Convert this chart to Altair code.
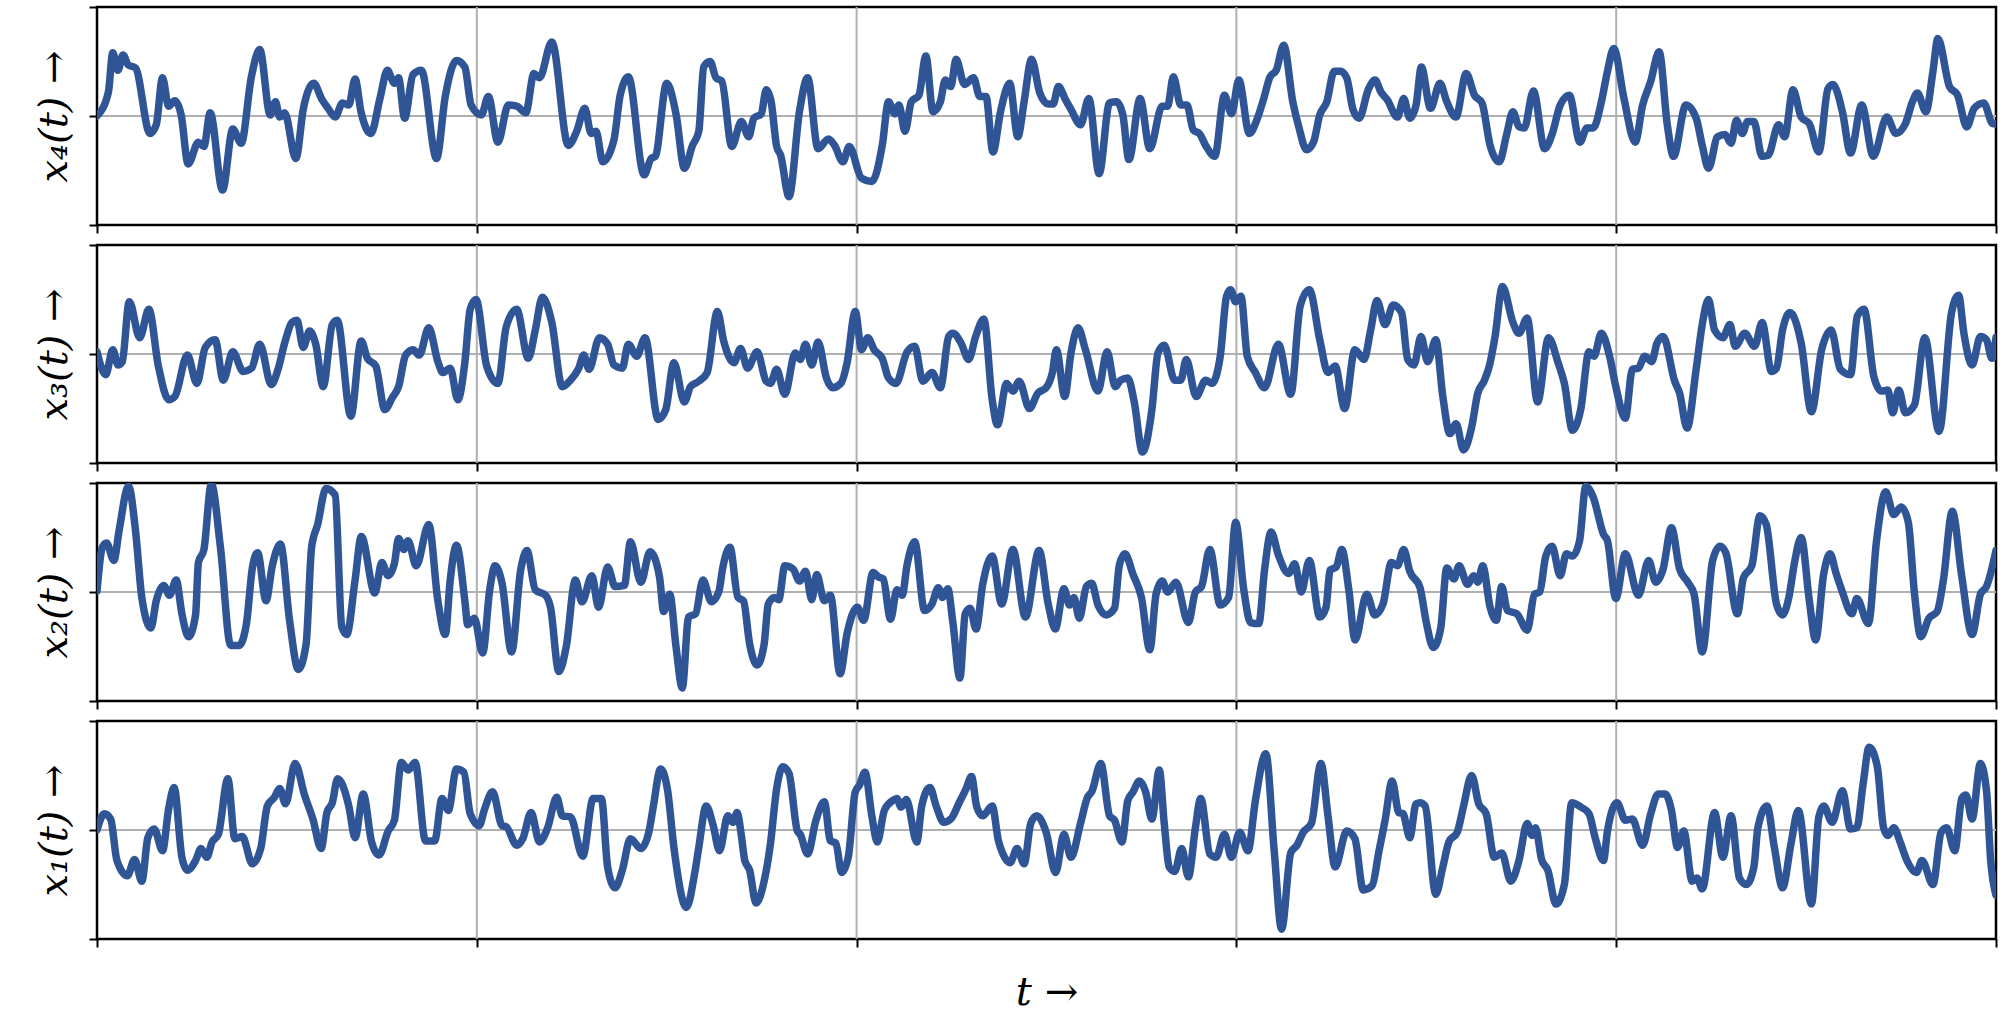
import altair as alt
import pandas as pd

# Sample times (0..100) and values (-1..1) for each of the four signals
T4 = [0, 0.6, 0.83, 1.1, 1.37, 1.64, 2.03, 2.79, 3.12, 3.45, 3.77, 4.1, 4.43, 4.8, 5.34, 5.63, 5.96, 6.61, 7.15, 7.59,
      8.13, 8.57, 9.12, 9.4, 9.62, 9.88, 10.47, 10.87, 11.41, 11.85, 12.17, 12.54, 12.93, 13.26, 13.59, 13.9, 14.42,
      14.9, 15.29, 15.66, 15.88, 16.2, 16.64, 17.08, 17.88, 18.34, 18.93, 19.37, 19.7, 20.24, 20.61, 21.11, 21.66,
      22.1, 22.58, 23.01, 23.3, 23.95, 24.82, 25.26, 25.69, 26.02, 26.28, 26.63, 27.22, 27.55, 27.98, 28.81, 29.18,
      29.4, 30.0, 30.5, 30.93, 31.36, 31.69, 31.95, 32.28, 32.6, 32.9, 33.43, 33.93, 34.32, 34.59, 34.98, 35.24,
      35.5, 35.79, 36.0, 36.44, 36.99, 37.42, 37.97, 38.52, 38.84, 39.28, 39.61, 40.26, 40.81, 41.35, 41.68, 42.01,
      42.23, 42.55, 42.88, 43.28, 43.65, 44.02, 44.41, 44.67, 44.96, 45.24, 45.68, 46.16, 46.48, 46.81, 47.18,
      47.58, 48.06, 48.49, 48.82, 49.21, 49.65, 50.09, 50.35, 50.63, 51.0, 51.29, 51.79, 52.23, 52.77, 53.32,
      53.69, 54.02, 54.34, 54.93, 55.44, 56.09, 56.38, 56.68, 57.07, 57.4, 57.73, 58.05, 58.38, 58.86, 59.37,
      59.74, 60.13, 60.68, 61.11, 61.44, 61.77, 62.1, 62.49, 62.97, 63.3, 63.69, 64.06, 64.39, 64.76, 65.15,
      65.48, 65.81, 66.14, 66.46, 66.96, 67.3, 67.61, 67.94, 68.48, 68.81, 69.13, 69.46, 69.74, 70.22, 70.72,
      71.08, 71.56, 72.1, 72.54, 72.93, 73.36, 73.84, 74.23, 74.56, 74.88, 75.16, 75.64, 76.23, 76.62, 77.05,
      77.53, 78.09, 78.46, 78.79, 79.22, 79.54, 79.87, 80.41, 81.0, 81.39, 81.82, 82.26, 82.69, 83.02, 83.67,
      84.21, 84.53, 84.86, 85.34, 85.73, 86.05, 86.33, 86.64, 86.92, 87.25, 87.68, 88.0, 88.55, 88.87, 89.31,
      89.74, 90.17, 90.67, 91.15, 91.41, 91.91, 92.34, 92.93, 93.54, 94.25, 94.73, 95.23, 95.6, 95.86, 96.31,
      96.68, 96.94, 97.55, 97.98, 98.46, 98.85, 99.35, 99.83, 100]
X4 = [0.0, 0.22, 0.58, 0.42, 0.56, 0.47, 0.44, -0.16, -0.08, 0.35, 0.09, 0.14, 0.01, -0.44, -0.24, -0.28, 0.03, -0.68,
      -0.12, -0.25, 0.36, 0.61, 0.01, 0.13, -0.01, 0.03, -0.39, 0.07, 0.3, 0.15, 0.07, -0.01, 0.12, 0.1, 0.34, 0.04,
      -0.16, 0.16, 0.42, 0.3, 0.35, -0.02, 0.38, 0.42, -0.39, 0.18, 0.51, 0.45, 0.1, 0.01, 0.18, -0.24, 0.1, 0.09,
      0.03, 0.39, 0.35, 0.68, -0.27, -0.14, 0.07, -0.16, -0.14, -0.42, -0.22, 0.19, 0.36, -0.54, -0.39, -0.37, 0.3,
      0.01, -0.48, -0.27, -0.14, 0.45, 0.5, 0.35, 0.32, -0.28, -0.05, -0.19, -0.02, 0.02, 0.24, 0.13, -0.28, -0.36,
      -0.74, 0.04, 0.35, -0.3, -0.21, -0.27, -0.42, -0.28, -0.57, -0.6, -0.27, 0.13, 0.02, 0.1, -0.14, 0.13, 0.19,
      0.55, 0.04, 0.13, 0.33, 0.27, 0.52, 0.29, 0.35, 0.18, 0.18, -0.33, 0.04, 0.3, -0.19, 0.13, 0.52, 0.21, 0.11,
      0.11, 0.27, 0.15, 0.06, -0.08, 0.16, -0.53, 0.12, 0.13, 0.01, -0.4, 0.16, -0.3, 0.09, 0.09, 0.36, 0.1, 0.1,
      -0.13, -0.16, -0.27, -0.37, 0.19, 0.02, 0.33, -0.16, -0.02, 0.16, 0.36, 0.42, 0.65, 0.13, -0.11, -0.31, -0.24,
      0.01, 0.13, 0.41, 0.41, 0.35, 0.06, -0.02, 0.25, 0.33, 0.22, 0.15, -0.01, 0.16, -0.02, 0.1, 0.45, 0.07, 0.3,
      0.13, -0.01, 0.39, 0.19, 0.12, -0.27, -0.42, -0.17, 0.04, -0.1, -0.11, 0.23, -0.3, -0.17, 0.1, 0.19, -0.24,
      -0.11, -0.11, 0.13, 0.41, 0.62, 0.16, -0.24, 0.1, 0.32, 0.59, -0.08, -0.37, 0.1, -0.02, -0.27, -0.48, -0.19,
      -0.17, -0.25, -0.04, -0.16, -0.05, -0.05, -0.37, -0.36, -0.08, -0.19, 0.24, -0.01, -0.07, -0.33, 0.25, 0.29,
      0.04, -0.34, 0.1, -0.37, -0.01, -0.16, -0.07, 0.13, 0.21, 0.04, 0.41, 0.71, 0.27, 0.19, -0.1, 0.07, 0.12,
      -0.07, -0.07]

T3 = [0, 0.46, 0.83, 1.11, 1.33, 1.7, 2.25, 2.73, 3.23, 3.78, 4.1, 4.76, 5.26, 5.7, 6.22, 6.65, 7.15, 7.7, 8.14, 8.57,
      9.18, 9.55, 9.88, 10.27, 10.53, 10.86, 11.19, 11.52, 11.91, 12.39, 12.65, 13.37, 13.91, 14.24, 14.68, 15.16,
      15.55, 15.88, 16.25, 16.64, 16.97, 17.47, 17.95, 18.21, 18.6, 19.0, 19.37, 19.65, 19.96, 20.52, 21.11, 21.55,
      22.1, 22.71, 23.08, 23.45, 23.95, 24.5, 24.93, 25.37, 25.63, 25.91, 26.46, 26.89, 27.22, 27.66, 27.98, 28.42,
      28.86, 29.55, 29.95, 30.38, 30.93, 31.25, 31.69, 32.13, 32.67, 33.0, 33.54, 33.89, 34.26, 34.76, 35.24, 35.46,
      35.79, 36.22, 36.77, 37.03, 37.31, 37.64, 37.97, 38.41, 38.73, 39.17, 39.5, 39.93, 40.26, 40.59, 40.92, 41.35,
      41.68, 42.07, 42.66, 43.06, 43.49, 43.97, 44.41, 44.85, 45.07, 45.5, 45.9, 46.27, 46.7, 47.14, 47.42, 47.9,
      48.23, 48.56, 49.1, 49.54, 49.98, 50.31, 50.52, 50.96, 51.29, 51.66, 52.05, 52.71, 53.19, 53.62, 53.91,
      54.28, 54.63, 55.05, 55.55, 55.87, 56.2, 56.75, 57.07, 57.36, 57.88, 58.38, 58.71, 59.15, 59.48, 59.69,
      59.96, 60.24, 60.57, 61.0, 61.48, 62.21, 62.86, 63.36, 63.84, 64.39, 64.82, 65.2, 65.7, 66.24, 66.72, 67.07,
      67.4, 67.83, 68.26, 68.7, 69.02, 69.35, 69.72, 70.07, 70.5, 70.87, 71.24, 71.57, 71.96, 72.39, 72.71, 73.04,
      73.32, 73.62, 74.01, 74.56, 74.88, 75.31, 75.86, 76.44, 76.94, 77.27, 77.7, 78.13, 78.57, 78.83, 79.22,
      79.65, 79.98, 80.48, 80.85, 81.17, 81.5, 81.87, 82.15, 82.47, 83.08, 83.34, 83.73, 84.21, 84.53, 84.86,
      85.18, 85.62, 85.99, 86.27, 86.77, 87.29, 87.68, 88.18, 88.44, 88.76, 89.15, 89.74, 90.28, 90.82, 91.32,
      91.8, 92.34, 92.7, 93.05, 93.57, 93.96, 94.3, 94.56, 94.88, 95.23, 95.7, 96.25, 97.0, 97.66, 98.03, 98.31,
      98.74, 99.18, 99.5, 99.78, 100]
X3 = [0.02, -0.19, 0.04, -0.1, -0.07, 0.48, 0.15, 0.41, -0.11, -0.42, -0.39, -0.01, -0.27, 0.06, 0.13, -0.24, 0.02,
      -0.16, -0.13, 0.09, -0.28, -0.13, 0.1, 0.29, 0.31, 0.06, 0.21, 0.09, -0.3, 0.27, 0.31, -0.57, 0.12, -0.04, -0.11,
      -0.51, -0.4, -0.3, -0.01, 0.04, -0.01, 0.24, -0.07, -0.17, -0.13, -0.42, -0.08, 0.41, 0.5, -0.11, -0.27, 0.25,
      0.41, -0.04, 0.22, 0.52, 0.29, -0.3, -0.24, -0.13, -0.01, -0.14, 0.15, 0.09, -0.1, -0.13, 0.09, -0.02, 0.15,
      -0.6, -0.51, -0.08, -0.44, -0.3, -0.25, -0.17, 0.39, 0.12, -0.08, 0.05, -0.13, 0.02, -0.25, -0.27, -0.14,
      -0.37, 0.01, -0.05, 0.09, -0.1, 0.11, -0.22, -0.31, -0.27, -0.08, 0.39, 0.04, 0.15, 0.04, -0.04, -0.22, -0.27,
      0.02, 0.07, -0.25, -0.17, -0.31, 0.16, 0.19, 0.1, -0.05, 0.16, 0.32, -0.42, -0.65, -0.27, -0.34, -0.25, -0.5,
      -0.36, -0.31, -0.17, 0.04, -0.39, 0.01, 0.24, 0.04, -0.34, 0.02, -0.3, -0.24, -0.22, -0.45, -0.9, -0.51, 0.01,
      0.08, -0.24, -0.24, -0.05, -0.39, -0.24, -0.27, -0.02, 0.53, 0.59, 0.48, 0.53, -0.02, -0.17, -0.31, 0.09,
      -0.37, 0.44, 0.59, 0.13, -0.17, -0.11, -0.5, 0.04, -0.05, 0.22, 0.49, 0.27, 0.45, 0.38, -0.05, -0.1, 0.16,
      -0.07, 0.13, -0.39, -0.73, -0.64, -0.88, -0.67, -0.36, -0.25, -0.11, 0.16, 0.62, 0.29, 0.19, 0.33, -0.44,
      0.15, -0.08, -0.27, -0.7, -0.51, 0.02, -0.02, 0.19, -0.02, -0.3, -0.59, -0.14, -0.13, -0.02, -0.07, 0.1, 0.16,
      -0.25, -0.36, -0.68, -0.14, 0.27, 0.5, 0.22, 0.15, 0.27, 0.07, 0.19, 0.07, 0.29, -0.16, -0.13, 0.22, 0.38, 0.1,
      -0.53, 0.04, 0.22, -0.14, -0.19, 0.35, 0.41, -0.21, -0.34, -0.33, -0.54, -0.33, -0.54, -0.47, 0.15, -0.71,
      0.38, 0.54, 0.19, -0.1, 0.16, 0.13, -0.04, 0.15]

T2 = [0, 0.28, 0.5, 0.89, 1.16, 1.66, 2.03, 2.36, 2.84, 3.12, 3.51, 3.82, 4.17, 4.47, 4.82, 5.19, 5.34, 5.63, 6.02,
      6.5, 7.04, 7.48, 7.87, 8.18, 8.46, 8.9, 9.23, 9.66, 10.14, 10.6, 11.01, 11.3, 11.62, 12.06, 12.54, 12.89,
      13.15, 13.59, 13.92, 14.63, 15.0, 15.33, 15.66, 15.88, 16.16, 16.38, 16.81, 17.47, 17.95, 18.34, 18.6, 18.93,
      19.37, 19.52, 19.87, 20.31, 20.68, 20.96, 21.33, 21.83, 22.31, 22.64, 23.08, 23.62, 23.88, 24.32, 24.71,
      25.19, 25.54, 26.06, 26.41, 26.89, 27.28, 27.77, 28.09, 28.64, 29.12, 29.62, 29.84, 30.16, 30.49, 30.82,
      31.15, 31.52, 31.91, 32.35, 32.74, 32.96, 33.33, 33.75, 34.04, 34.37, 34.76, 35.13, 35.35, 35.68, 35.9,
      36.22, 36.66, 36.99, 37.31, 37.64, 37.9, 38.3, 38.62, 39.13, 39.5, 40.04, 40.37, 40.87, 41.14, 41.4, 41.79,
      42.12, 42.4, 42.66, 43.06, 43.58, 43.97, 44.3, 44.52, 44.8, 45.07, 45.44, 45.72, 45.98, 46.29, 46.64, 47.14,
      47.64, 48.23, 48.89, 49.61, 50.09, 50.46, 50.92, 51.22, 51.44, 51.73, 52.1, 52.38, 52.71, 53.15, 53.58,
      53.84, 54.13, 54.56, 55.0, 55.44, 55.77, 56.09, 56.38, 56.81, 57.47, 57.84, 58.16, 58.6, 59.15, 59.59,
      59.96, 60.39, 60.74, 61.18, 61.48, 61.83, 62.21, 62.75, 63.07, 63.41, 63.84, 64.39, 64.72, 64.93, 65.26,
      65.55, 65.92, 66.25, 66.86, 67.29, 67.72, 68.16, 68.48, 68.81, 69.13, 69.67, 70.0, 70.37, 70.76, 71.08,
      71.45, 71.73, 72.17, 72.5, 72.71, 72.97, 73.36, 73.69, 73.97, 74.27, 74.77, 75.31, 75.7, 75.97, 76.29,
      76.62, 77.05, 77.38, 77.7, 78.07, 78.4, 78.79, 79.33, 79.54, 79.98, 80.48, 81.17, 81.71, 82.08, 82.47,
      82.91, 83.34, 83.77, 84.1, 84.53, 85.08, 85.47, 85.77, 86.38, 86.7, 87.14, 87.57, 87.9, 88.44, 88.76, 89.09,
      89.41, 89.74, 90.17, 90.5, 90.93, 91.26, 91.58, 91.91, 92.41, 92.67, 93.28, 93.71, 94.19, 94.62, 95.01,
      95.38, 95.71, 96.04, 96.47, 96.9, 97.23, 97.7, 98.2, 98.74, 99.18, 99.5, 100]
X2 = [0.01, 0.41, 0.45, 0.29, 0.56, 0.97, 0.56, -0.05, -0.33, -0.08, 0.06, -0.03, 0.11, -0.2, -0.41, -0.21, 0.27, 0.39,
      0.99, 0.41, -0.49, -0.49, -0.29, 0.22, 0.36, -0.08, 0.24, 0.44, -0.26, -0.71, -0.48, 0.41, 0.62, 0.95, 0.89,
      -0.32, -0.39, 0.11, 0.51, -0.01, 0.27, 0.15, 0.26, 0.49, 0.39, 0.47, 0.24, 0.62, -0.08, -0.39, 0.11, 0.43,
      -0.08, -0.3, -0.24, -0.56, 0.02, 0.24, 0.08, -0.55, 0.2, 0.38, 0.02, -0.03, -0.14, -0.73, -0.5, 0.11, -0.09,
      0.15, -0.14, 0.23, 0.05, 0.06, 0.46, 0.09, 0.37, 0.14, -0.18, -0.02, -0.5, -0.88, -0.23, -0.2, 0.11, -0.09,
      0.0, 0.23, 0.41, -0.05, -0.08, -0.48, -0.67, -0.48, -0.11, -0.05, -0.07, 0.24, 0.21, 0.1, 0.19, -0.07, 0.16,
      -0.08, -0.03, -0.75, -0.38, -0.14, -0.26, 0.18, 0.14, 0.12, -0.25, 0.02, -0.03, 0.25, 0.46, -0.17, -0.11,
      0.04, -0.05, 0.03, -0.28, -0.79, -0.2, -0.15, -0.34, 0.07, 0.33, -0.11, 0.39, -0.23, 0.38, -0.11, -0.34, 0.03,
      -0.12, -0.05, -0.24, 0.05, 0.08, -0.12, -0.21, -0.15, 0.25, 0.35, 0.16, -0.05, -0.53, -0.02, 0.1, 0.0, 0.09,
      -0.28, 0.0, 0.05, 0.39, -0.12, -0.05, 0.64, 0.02, -0.28, -0.29, 0.2, 0.55, 0.34, 0.17, 0.26, 0.0, 0.29, -0.23,
      -0.14, 0.2, 0.23, 0.39, 0.02, -0.44, -0.02, -0.21, -0.11, 0.27, 0.24, 0.39, 0.19, 0.04, -0.28, -0.51, -0.33,
      0.22, 0.12, 0.24, 0.07, 0.15, 0.09, 0.24, -0.14, -0.26, 0.05, -0.17, -0.2, -0.35, -0.02, 0.0, 0.33, 0.42, 0.15,
      0.35, 0.33, 0.47, 0.97, 0.87, 0.53, 0.47, -0.06, 0.35, -0.03, 0.29, 0.09, 0.21, 0.59, 0.21, 0.09, -0.02,
      -0.55, 0.29, 0.42, 0.36, -0.2, 0.13, 0.24, 0.7, 0.62, -0.11, -0.21, -0.05, 0.29, 0.5, -0.08, -0.44, 0.17, 0.35,
      0.17, 0.0, -0.2, -0.06, -0.29, 0.47, 0.92, 0.71, 0.78, 0.64, -0.02, -0.41, -0.24, -0.18, 0.11, 0.74, 0.14,
      -0.39, -0.02, 0.05, 0.38]

T1 = [0, 0.39, 0.72, 1.05, 1.6, 1.98, 2.36, 2.68, 3.01, 3.45, 3.77, 4.06, 4.47, 4.76, 5.19, 5.48, 5.78, 6.06, 6.39,
      6.89, 7.26, 7.65, 8.18, 8.62, 8.97, 9.34, 9.62, 9.93, 10.43, 10.93, 11.37, 11.8, 12.11, 12.39, 12.67, 13.26,
      13.59, 14.02, 14.46, 14.85, 15.33, 15.66, 16.03, 16.38, 16.75, 17.3, 17.78, 18.17, 18.5, 18.93, 19.32, 19.65,
      20.13, 20.39, 20.83, 21.33, 21.55, 22.1, 22.42, 22.86, 23.3, 23.73, 24.21, 24.5, 24.93, 25.58, 26.13, 26.56,
      26.89, 27.28, 27.66, 28.09, 28.64, 29.07, 29.29, 29.68, 30.05, 30.38, 31.04, 31.47, 31.69, 32.08, 32.45,
      32.78, 33.22, 33.48, 33.71, 33.93, 34.11, 34.37, 34.7, 35.13, 35.46, 35.79, 36.11, 36.44, 36.88, 37.03,
      37.42, 37.86, 38.3, 38.62, 38.91, 39.21, 39.56, 39.93, 40.15, 40.44, 40.81, 41.09, 41.46, 41.9, 42.12, 42.34,
      42.62, 43.17, 43.43, 43.86, 44.19, 44.59, 44.96, 45.4, 45.77, 46.05, 46.33, 46.64, 47.14, 47.47, 47.68,
      48.08, 48.45, 48.82, 49.17, 49.48, 49.98, 50.48, 50.92, 51.29, 51.79, 52.16, 52.38, 52.86, 53.32, 53.58,
      53.97, 54.28, 54.56, 54.89, 55.22, 55.55, 55.94, 56.2, 56.46, 56.75, 57.12, 57.47, 57.84, 58.12, 58.6,
      58.93, 59.37, 59.74, 60.17, 60.61, 61.0, 61.55, 61.99, 62.38, 62.86, 63.19, 63.52, 63.95, 64.45, 64.83,
      65.2, 65.81, 66.24, 66.68, 67.15, 67.51, 67.83, 68.2, 68.55, 68.77, 69.13, 69.46, 69.68, 69.94, 70.5,
      70.87, 71.19, 71.63, 71.95, 72.39, 72.76, 73.15, 73.58, 73.97, 74.45, 74.88, 75.31, 75.57, 75.75, 76.07,
      76.4, 76.83, 77.27, 77.66, 78.14, 78.57, 78.89, 79.33, 79.54, 80.04, 80.48, 80.85, 81.39, 81.82, 82.21,
      82.58, 82.91, 83.23, 83.56, 84.0, 84.25, 84.53, 85.18, 85.62, 86.05, 86.49, 86.86, 87.25, 87.46, 87.94,
      88.33, 88.76, 89.2, 89.59, 90.28, 90.67, 90.93, 91.37, 91.91, 92.34, 92.67, 93.0, 93.32, 93.75, 94.08,
      94.3, 94.62, 94.95, 95.31, 95.81, 96.1, 96.68, 97.11, 97.4, 97.83, 98.2, 98.42, 98.74, 99.18, 99.5, 99.72,
      100]
X1 = [0.0, 0.15, 0.1, -0.28, -0.42, -0.27, -0.47, -0.07, 0.01, -0.19, 0.19, 0.39, -0.25, -0.37, -0.28, -0.17, -0.25,
      -0.11, -0.04, 0.47, -0.08, -0.06, -0.31, -0.17, 0.22, 0.3, 0.38, 0.24, 0.61, 0.32, 0.1, -0.17, 0.16, 0.25,
      0.47, 0.22, -0.07, 0.33, -0.11, -0.23, -0.01, 0.09, 0.62, 0.55, 0.62, -0.1, -0.1, 0.29, 0.18, 0.56, 0.53,
      0.15, 0.04, 0.18, 0.35, 0.04, 0.03, -0.14, -0.08, 0.16, -0.11, 0.02, 0.3, 0.13, 0.12, -0.24, 0.29, 0.29, -0.34,
      -0.53, -0.37, -0.08, -0.17, -0.01, 0.21, 0.56, 0.36, -0.16, -0.71, -0.4, -0.16, 0.22, 0.04, -0.19, 0.13, 0.07,
      0.16, -0.05, -0.28, -0.37, -0.67, -0.47, -0.13, 0.38, 0.58, 0.52, -0.01, -0.04, -0.22, 0.09, 0.26, -0.1, -0.12,
      -0.39, -0.25, 0.35, 0.41, 0.53, 0.12, -0.11, 0.18, 0.27, 0.29, 0.21, 0.28, -0.11, 0.22, 0.39, 0.22, 0.07, 0.1,
      0.25, 0.38, 0.49, 0.21, 0.13, 0.22, -0.1, -0.21, -0.3, -0.17, -0.31, 0.06, 0.13, -0.02, -0.39, -0.04, -0.25,
      0.06, 0.3, 0.35, 0.61, 0.13, 0.09, -0.11, 0.27, 0.35, 0.45, 0.35, 0.1, 0.55, 0.06, -0.34, -0.38, -0.17, -0.43,
      0.02, 0.29, -0.22, -0.25, -0.04, -0.25, -0.02, -0.19, 0.27, 0.7, -0.19, -0.91, -0.21, -0.14, -0.02, 0.06,
      0.61, 0.12, -0.34, -0.01, -0.08, -0.55, -0.51, -0.19, 0.09, 0.45, 0.16, 0.15, -0.07, 0.24, 0.25, 0.22, -0.59,
      -0.34, -0.11, -0.02, 0.21, 0.5, 0.24, 0.15, -0.25, -0.21, -0.47, -0.28, 0.06, -0.05, 0.02, -0.27, -0.37,
      -0.68, -0.5, 0.25, 0.21, 0.15, -0.07, -0.28, -0.01, 0.25, 0.09, 0.1, -0.14, 0.15, 0.33, 0.33, 0.18, -0.16,
      -0.01, -0.47, -0.44, -0.54, 0.16, -0.25, 0.13, -0.44, -0.5, -0.34, 0.02, 0.22, -0.16, -0.53, -0.13, 0.18,
      -0.68, 0.12, 0.22, 0.07, 0.36, 0.01, 0.02, 0.42, 0.76, 0.58, 0.02, -0.05, 0.02, -0.11, -0.28, -0.39, -0.28,
      -0.5, -0.02, 0.02, -0.19, 0.29, 0.32, 0.1, 0.61, 0.36, -0.28, -0.6]

GRID_T = [20, 40, 60, 80]
X_TICKS = [0, 20, 40, 60, 80, 100]
Y_TICKS = [-1, 0, 1]

LINE_COLOR = "#2f5597"
GRID_COLOR = "#b0b0b0"
FONT = "DejaVu Serif"
TITLE_SIZE = 40
PANEL_W = 1899
PANEL_H = 218


def panel(t, v, ytitle, xtitle=None):
    df = pd.DataFrame({"t": t, "v": v})
    xscale = alt.Scale(domain=[0, 100], nice=False, zero=False)
    yscale = alt.Scale(domain=[-1, 1], nice=False, zero=False)
    xaxis_kw = dict(values=X_TICKS, labels=False, grid=False, domain=False,
                    tickSize=8, tickWidth=2, tickColor="black")
    if xtitle:
        xaxis_kw.update(title=xtitle, titleFont=FONT, titleFontSize=TITLE_SIZE,
                        titleFontStyle="italic", titleFontWeight="normal",
                        titlePadding=24, titleColor="black")
    else:
        xaxis_kw.update(title=None)
    xaxis = alt.Axis(**xaxis_kw)
    yaxis = alt.Axis(values=Y_TICKS, labels=False, grid=False, domain=False,
                     tickSize=8, tickWidth=2, tickColor="black",
                     title=ytitle, titleFont=FONT, titleFontSize=TITLE_SIZE,
                     titleFontStyle="italic", titleFontWeight="normal",
                     titlePadding=14, titleColor="black")

    vgrid = alt.Chart(pd.DataFrame({"t": GRID_T})).mark_rule(
        color=GRID_COLOR, strokeWidth=2
    ).encode(x=alt.X("t:Q", scale=xscale, axis=xaxis))
    hgrid = alt.Chart(pd.DataFrame({"v": [0]})).mark_rule(
        color=GRID_COLOR, strokeWidth=2
    ).encode(y=alt.Y("v:Q", scale=yscale, axis=yaxis))
    line = alt.Chart(df).mark_line(
        color=LINE_COLOR, strokeWidth=7.5, interpolate="monotone",
        clip=True, strokeJoin="round", strokeCap="round"
    ).encode(
        x=alt.X("t:Q", scale=xscale, axis=xaxis),
        y=alt.Y("v:Q", scale=yscale, axis=yaxis),
    )
    return alt.layer(vgrid, hgrid, line).properties(width=PANEL_W, height=PANEL_H)


chart = alt.vconcat(
    panel(T4, X4, "x₄(t) →"),
    panel(T3, X3, "x₃(t) →"),
    panel(T2, X2, "x₂(t) →"),
    panel(T1, X1, "x₁(t) →", xtitle="t →"),
    spacing=6,
).properties(
    padding={"left": 32, "top": 4, "right": 10, "bottom": 5},
    background="white",
).configure_view(
    stroke="black", strokeWidth=2.5
)

chart.save("out.html", embed_options={"renderer": "svg", "actions": False})
